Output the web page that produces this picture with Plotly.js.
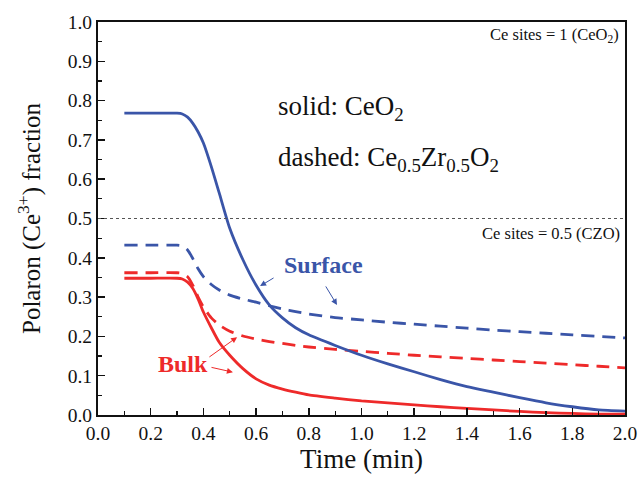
<!DOCTYPE html>
<html>
<head>
<meta charset="utf-8">
<script src="https://cdn.plot.ly/plotly-3.0.1.min.js"></script>
<style>html,body{margin:0;padding:0;background:#fff;}#chart{width:640px;height:477px;}</style>
</head>
<body>
<div id="chart"></div>
<script>
// Time (min)
const time = [0.10, 0.20, 0.30, 0.32, 0.34, 0.36, 0.38, 0.40, 0.43, 0.46, 0.50, 0.55, 0.60, 0.65, 0.70, 0.75, 0.80, 0.90, 1.00, 1.10, 1.20, 1.30, 1.40, 1.50, 1.60, 1.70, 1.80, 1.90, 2.00];
// CeO2 surface (solid blue)
const ceo2Surface = [0.768, 0.768, 0.768, 0.766, 0.758, 0.742, 0.72, 0.692, 0.632, 0.565, 0.475, 0.395, 0.33, 0.28, 0.247, 0.222, 0.204, 0.177, 0.152, 0.13, 0.11, 0.09, 0.072, 0.058, 0.044, 0.031, 0.021, 0.013, 0.01];
// CeO2 bulk (solid red)
const ceo2Bulk = [0.348, 0.348, 0.348, 0.346, 0.338, 0.322, 0.295, 0.262, 0.222, 0.185, 0.152, 0.118, 0.092, 0.076, 0.066, 0.058, 0.051, 0.043, 0.036, 0.031, 0.026, 0.021, 0.017, 0.013, 0.009, 0.006, 0.004, 0.002, 0.002];
// CZO surface (dashed blue)
const czoSurface = [0.432, 0.432, 0.432, 0.43, 0.42, 0.398, 0.372, 0.352, 0.332, 0.318, 0.305, 0.295, 0.287, 0.278, 0.27, 0.263, 0.257, 0.248, 0.242, 0.236, 0.231, 0.226, 0.221, 0.216, 0.212, 0.208, 0.204, 0.2, 0.196];
// CZO bulk (dashed red)
const czoBulk = [0.362, 0.362, 0.362, 0.36, 0.352, 0.33, 0.3, 0.275, 0.247, 0.229, 0.213, 0.201, 0.193, 0.187, 0.182, 0.177, 0.173, 0.167, 0.162, 0.157, 0.152, 0.148, 0.144, 0.14, 0.136, 0.132, 0.128, 0.124, 0.12];

const blue = '#3a55a8';
const red = '#ee2a2a';
const serif = 'Liberation Serif, Times New Roman, Times, serif';

function trace(y, color, dash) {
  return {x: time, y: y, type: 'scatter', mode: 'lines',
    line: {color: color, width: 2.8, dash: dash, shape: 'spline', smoothing: 0.6},
    hoverinfo: 'skip', showlegend: false};
}

const data = [
  trace(czoSurface, blue, '13px,8px'),
  trace(czoBulk, red, '13px,8px'),
  trace(ceo2Surface, blue, 'solid'),
  trace(ceo2Bulk, red, 'solid')
];

function arrow(x, y, ax, ay, color) {
  return {x: x, y: y, ax: ax, ay: ay, xref: 'x', yref: 'y', axref: 'x', ayref: 'y',
    text: '', showarrow: true, arrowhead: 2, arrowsize: 1.2, arrowwidth: 1, arrowcolor: color};
}

const layout = {
  width: 640, height: 477,
  margin: {l: 98, r: 15, t: 22, b: 62},
  paper_bgcolor: '#fff', plot_bgcolor: '#fff',
  font: {family: serif, color: '#111', size: 19},
  xaxis: {
    range: [0, 2], dtick: 0.2, tick0: 0, tickformat: '.1f',
    ticks: 'inside', ticklen: 7, tickwidth: 1.5, tickcolor: '#111',
    minor: {dtick: 0.1, ticks: 'inside', ticklen: 4, tickwidth: 1.2, tickcolor: '#111'},
    showline: true, linecolor: '#111', linewidth: 2, mirror: true,
    showgrid: false, zeroline: false,
    tickfont: {family: serif, size: 19.5, color: '#111'},
    title: {text: 'Time (min)', font: {family: serif, size: 27, color: '#111'}, standoff: 4}
  },
  yaxis: {
    range: [0, 1], dtick: 0.1, tick0: 0, tickformat: '.1f',
    ticks: 'inside', ticklen: 7, tickwidth: 1.5, tickcolor: '#111',
    minor: {dtick: 0.05, ticks: 'inside', ticklen: 4, tickwidth: 1.2, tickcolor: '#111'},
    showline: true, linecolor: '#111', linewidth: 2, mirror: true,
    showgrid: false, zeroline: false,
    tickfont: {family: serif, size: 19.5, color: '#111'},
    title: {text: 'Polaron (Ce<sup>3+</sup>) fraction', font: {family: serif, size: 25, color: '#111'}, standoff: 20}
  },
  shapes: [
    {type: 'line', xref: 'paper', yref: 'y', x0: 0, x1: 1, y0: 0.5, y1: 0.5,
     line: {color: '#555', width: 1, dash: 'dot'}}
  ],
  annotations: [
    {x: 0.675, y: 0.78, xref: 'x', yref: 'y', xanchor: 'left', yanchor: 'middle', showarrow: false,
     text: 'solid: CeO<sub>2</sub>', font: {family: serif, size: 27, color: '#111'}},
    {x: 0.675, y: 0.652, xref: 'x', yref: 'y', xanchor: 'left', yanchor: 'middle', showarrow: false,
     text: 'dashed: Ce<sub>0.5</sub>Zr<sub>0.5</sub>O<sub>2</sub>', font: {family: serif, size: 27, color: '#111'}},
    {x: 1.985, y: 0.966, xref: 'x', yref: 'y', xanchor: 'right', yanchor: 'middle', showarrow: false,
     text: 'Ce sites = 1 (CeO<sub>2</sub>)', font: {family: serif, size: 16.5, color: '#111'}},
    {x: 1.99, y: 0.463, xref: 'x', yref: 'y', xanchor: 'right', yanchor: 'middle', showarrow: false,
     text: 'Ce sites = 0.5 (CZO)', font: {family: serif, size: 16.5, color: '#111'}},
    {x: 0.856, y: 0.382, xref: 'x', yref: 'y', xanchor: 'center', yanchor: 'middle', showarrow: false,
     text: '<b>Surface</b>', font: {family: serif, size: 24, color: blue}},
    {x: 0.321, y: 0.130, xref: 'x', yref: 'y', xanchor: 'center', yanchor: 'middle', showarrow: false,
     text: '<b>Bulk</b>', font: {family: serif, size: 24, color: red}},
    arrow(0.615, 0.328, 0.672, 0.351, blue),
    arrow(0.907, 0.280, 0.861, 0.331, blue),
    arrow(0.528, 0.198, 0.417, 0.145, red),
    arrow(0.512, 0.109, 0.425, 0.122, red)
  ]
};

Plotly.newPlot('chart', data, layout, {displayModeBar: false, staticPlot: true});
</script>
</body>
</html>
